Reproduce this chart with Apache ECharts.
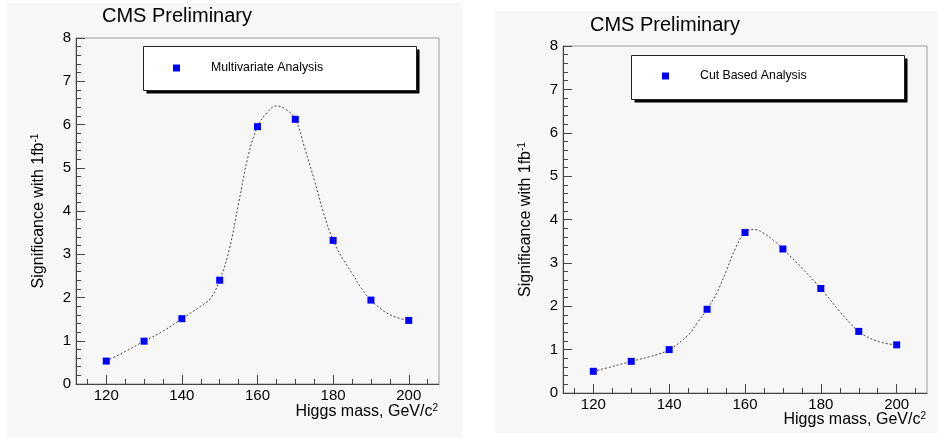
<!DOCTYPE html>
<html>
<head>
<meta charset="utf-8">
<script src="https://cdn.jsdelivr.net/npm/echarts@6/dist/echarts.min.js"></script>
<style>html,body{margin:0;padding:0;background:#fff}#c{width:938px;height:439px}</style>
</head>
<body>
<div id="c"></div>
<script>
// ---- data ----
const masses = [120, 130, 140, 150, 160, 170, 180, 190, 200];
const mvaSignif = [0.53, 0.99, 1.51, 2.40, 5.95, 6.12, 3.32, 1.94, 1.47];
const cutSignif = [0.50, 0.73, 1.00, 1.93, 3.70, 3.32, 2.41, 1.42, 1.11];

// dashed fit curves
const mvaFitMass = [120, 125, 130, 135, 140, 145, 147.5, 150, 152.5, 155, 157.5, 160, 162.5, 165, 167.5, 170, 172.5, 175, 177.5, 180, 182.5, 185, 187.5, 190, 195, 200];
const mvaFitSignif = [0.53, 0.75, 0.99, 1.22, 1.51, 1.80, 1.97, 2.40, 3.10, 4.18, 5.26, 5.95, 6.27, 6.43, 6.35, 6.12, 5.45, 4.72, 3.95, 3.32, 2.90, 2.56, 2.21, 1.94, 1.60, 1.47];
const cutFitMass = [120, 125, 130, 135, 140, 145, 147.5, 150, 152.5, 155, 157.5, 160, 162.5, 165, 167.5, 170, 175, 180, 185, 190, 195, 200];
const cutFitSignif = [0.50, 0.61, 0.73, 0.84, 1.00, 1.34, 1.63, 1.93, 2.30, 2.80, 3.34, 3.70, 3.77, 3.68, 3.52, 3.32, 2.88, 2.41, 1.88, 1.42, 1.19, 1.11];

const xMajorTicks = [120, 140, 160, 180, 200];
const xMinorTicks = [115, 125, 130, 135, 145, 150, 155, 165, 170, 175, 185, 190, 195, 205];
const titleText = 'CMS Preliminary';
const legendNames = ['Multivariate Analysis', 'Cut Based Analysis'];
const xTitle = 'Higgs mass, GeV/c{sup|2}';
const yTitle = 'Significance with 1fb{sup|-1}';

// ---- chart ----
const FONT = 'Liberation Sans, Arial, Helvetica, sans-serif';
const chart = echarts.init(document.getElementById('c'), null, {renderer: 'canvas'});
const zip = (a, b) => a.map((v, i) => [v, b[i]]);
const supRich = {sup: {fontFamily: FONT, fontSize: 10, verticalAlign: 'top', padding: [0, 0, 8, 0], fill: '#000', color: '#000'}};

const grids = [
  {left: 76, top: 38, width: 363, height: 346},
  {left: 563, top: 46, width: 364, height: 347}
];

const xAxes = [], yAxes = [];
grids.forEach((g, gi) => {
  xAxes.push({
    gridIndex: gi, type: 'value', min: 112, max: 208,
    axisLine: {show: true, lineStyle: {color: '#444', width: 1}},
    axisTick: {show: true, inside: true, length: 9, customValues: xMajorTicks, lineStyle: {color: '#444'}},
    axisLabel: {show: true, customValues: xMajorTicks, margin: 4, fontFamily: FONT, fontSize: 15, color: '#000'},
    splitLine: {show: false}
  });
  xAxes.push({
    gridIndex: gi, type: 'value', min: 112, max: 208, position: 'bottom',
    axisLine: {show: false},
    axisTick: {show: true, inside: true, length: 5, customValues: xMinorTicks, lineStyle: {color: '#444'}},
    axisLabel: {show: false},
    splitLine: {show: false}
  });
  yAxes.push({
    gridIndex: gi, type: 'value', min: 0, max: 8, interval: 1,
    name: yTitle, nameLocation: 'middle', nameGap: 28, nameRotate: 90,
    nameTextStyle: {fontFamily: FONT, fontSize: 16, color: '#000', rich: supRich},
    axisLine: {show: true, lineStyle: {color: '#444', width: 1}},
    axisTick: {show: true, inside: true, length: 9, lineStyle: {color: '#444'}},
    minorTick: {show: true, splitNumber: 5, length: 5, lineStyle: {color: '#444'}},
    axisLabel: {margin: 5, fontFamily: FONT, fontSize: 15, color: '#000'},
    splitLine: {show: false}
  });
});

const sigSets = [mvaSignif, cutSignif];
const fitSets = [[mvaFitMass, mvaFitSignif], [cutFitMass, cutFitSignif]];
const series = [];
[0, 1].forEach(gi => {
  series.push({
    name: 'fit' + gi, type: 'line', xAxisIndex: gi * 2, yAxisIndex: gi,
    data: zip(fitSets[gi][0], fitSets[gi][1]), smooth: 0.4, showSymbol: false, symbol: 'none',
    lineStyle: {color: '#444', width: 1, type: [2, 2]}, silent: true, z: 2
  });
  series.push({
    name: legendNames[gi], type: 'scatter', xAxisIndex: gi * 2, yAxisIndex: gi,
    data: zip(masses, sigSets[gi]), symbol: 'rect', symbolSize: 7,
    itemStyle: {color: '#0000ff', opacity: 1}, z: 3
  });
});

const legendCommon = {
  orient: 'horizontal', icon: 'rect', itemWidth: 7, itemHeight: 7, itemGap: 0,
  backgroundColor: 'transparent', borderWidth: 0, selectedMode: false, z: 10
};

function legendBox(x, y) {
  return [
    {type: 'rect', shape: {x: x + 3, y: y + 3, width: 273, height: 44}, style: {fill: '#000'}, z: 5, silent: true},
    {type: 'rect', shape: {x: x, y: y, width: 273, height: 44}, style: {fill: '#fff', stroke: '#222', lineWidth: 1}, z: 6, silent: true}
  ];
}
function xTitleText(right, top) {
  return {
    type: 'text', x: right, y: top, z: 6, silent: true,
    style: {text: xTitle, fontFamily: FONT, fontSize: 16, fill: '#000', align: 'right', verticalAlign: 'top', rich: supRich}
  };
}

chart.setOption({
  animation: false,
  backgroundColor: '#ffffff',
  graphic: [
    {type: 'rect', shape: {x: 7, y: 3, width: 455, height: 435}, style: {fill: '#f7f7f7'}, z: -10, silent: true},
    {type: 'rect', shape: {x: 495, y: 11, width: 443, height: 422}, style: {fill: '#f7f7f7'}, z: -10, silent: true}
  ].concat(legendBox(143.5, 46.5), legendBox(631.5, 55.5), [xTitleText(438, 403), xTitleText(926, 411)]),
  title: [
    {text: titleText, left: 102, top: 6, padding: 0, textStyle: {fontFamily: FONT, fontSize: 20, fontWeight: 'normal', color: '#000'}},
    {text: titleText, left: 590, top: 15, padding: 0, textStyle: {fontFamily: FONT, fontSize: 20, fontWeight: 'normal', color: '#000'}}
  ],
  legend: [
    Object.assign({}, legendCommon, {
      data: [legendNames[0]], left: 143, top: 47, padding: [15, 93, 15, 30],
      textStyle: {fontFamily: FONT, fontSize: 12.3, color: '#000', padding: [0, 0, 0, 26]}
    }),
    Object.assign({}, legendCommon, {
      data: [legendNames[1]], left: 631, top: 55, padding: [15, 97, 15, 31],
      textStyle: {fontFamily: FONT, fontSize: 12.3, color: '#000', padding: [0, 0, 0, 26]}
    })
  ],
  grid: grids.map(g => Object.assign({show: true, borderColor: '#999', borderWidth: 1, backgroundColor: 'transparent', containLabel: false, outerBoundsMode: 'none'}, g)),
  xAxis: xAxes,
  yAxis: yAxes,
  series: series
});
</script>
</body>
</html>
